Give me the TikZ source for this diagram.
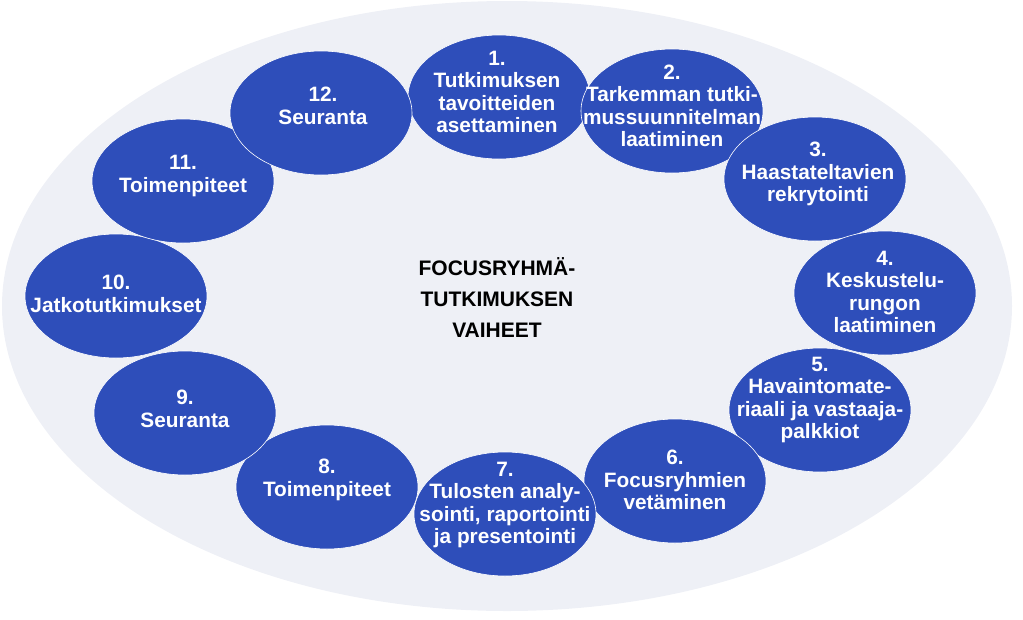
\documentclass[tikz,border=0pt]{standalone}
\usepackage{fontspec}
\setmainfont{Liberation Sans}
\usetikzlibrary{shapes.geometric}
\definecolor{stepblue}{RGB}{46,78,186}
\definecolor{bggray}{RGB}{238,240,246}
\tikzset{
  stepshape/.style={ellipse, fill=stepblue, draw=white, line width=0.6pt,
    minimum width=182pt, minimum height=124pt, inner sep=0pt},
  steptext/.style={text=white, align=center, inner sep=0pt,
    font=\bfseries\fontsize{20.8}{22.5}\selectfont}
}
\begin{document}
\begin{tikzpicture}[x=1pt,y=-1pt]
\useasboundingbox (0,0) rectangle (1023,619);

%Background
\fill[bggray] (507,306) ellipse (505 and 305);

%Steps (shapes)
\node[stepshape] (e1) at (499,97) {};
\node[stepshape] (e2) at (672,111) {};
\node[stepshape] (e3) at (815,179) {};
\node[stepshape] (e4) at (885,293) {};
\node[stepshape] (e5) at (820,410) {};
\node[stepshape] (e6) at (675,481) {};
\node[stepshape] (e7) at (505,514) {};
\node[stepshape] (e8) at (327,487) {};
\node[stepshape] (e9) at (185,413) {};
\node[stepshape] (e10) at (116,296) {};
\node[stepshape] (e11) at (183,181) {};
\node[stepshape] (e12) at (321,113) {};

%Steps (texts)
\node[steptext] (t1) at (497,92) {1.\\Tutkimuksen\\tavoitteiden\\asettaminen};
\node[steptext] (t2) at (672,106) {2.\\Tarkemman tutki-\\mussuunnitelman\\laatiminen};
\node[steptext] (t3) at (818,174) {3.\\Haastateltavien\\rekrytointi};
\node[steptext] (t4) at (885,292) {4.\\Keskustelu-\\rungon\\laatiminen};
\node[steptext] (t5) at (820,400) {5.\\Havaintomate-\\riaali ja vastaaja-\\palkkiot};
\node[steptext] (t6) at (675,480) {6.\\Focusryhmien\\vetäminen};
\node[steptext] (t7) at (505,505) {7.\\Tulosten analy-\\sointi, raportointi\\ja presentointi};
\node[steptext] (t8) at (327,480) {8.\\Toimenpiteet};
\node[steptext] (t9) at (185,409) {9.\\Seuranta};
\node[steptext] (t10) at (116,294) {10.\\Jatkotutkimukset};
\node[steptext] (t11) at (183,176) {11.\\Toimenpiteet};
\node[steptext] (t12) at (323,106) {12.\\Seuranta};

%Title
\node[align=center, font=\bfseries\fontsize{21}{31}\selectfont] (title) at (497,298)
  {FOCUSRYHMÄ-\\TUTKIMUKSEN\\VAIHEET};
\end{tikzpicture}
\end{document}
